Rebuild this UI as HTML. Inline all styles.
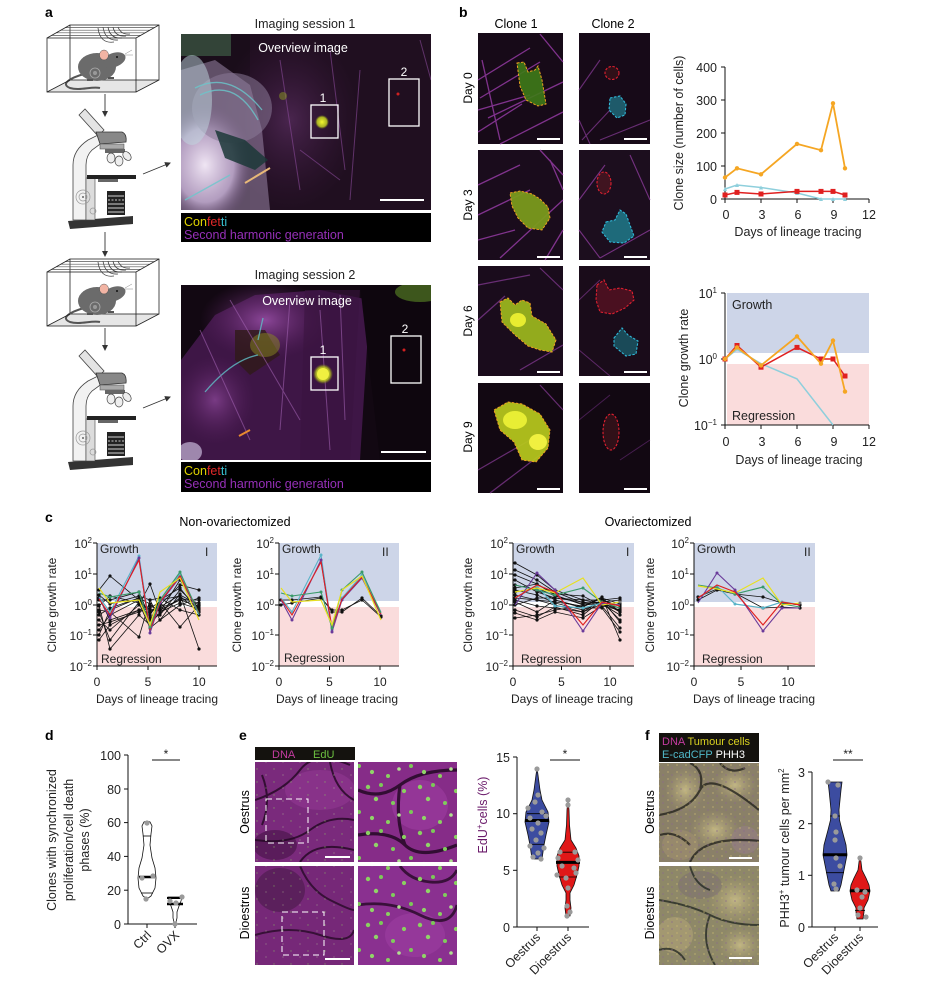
<!DOCTYPE html>
<html><head><meta charset="utf-8">
<style>
html,body{margin:0;padding:0;background:#fff;}
svg{display:block;}
text{font-family:"Liberation Sans",Arial,sans-serif;}
</style></head>
<body>
<svg width="943" height="989" viewBox="0 0 943 989" xmlns="http://www.w3.org/2000/svg" font-family="Liberation Sans, Arial, sans-serif">
<defs>
  <marker id="arr" markerWidth="6" markerHeight="6" refX="5" refY="3" orient="auto" markerUnits="userSpaceOnUse"><path d="M0,0 L6,3 L0,6 Z" fill="#333"/></marker>
  <marker id="mk" markerWidth="4" markerHeight="4" refX="2" refY="2" markerUnits="userSpaceOnUse"><circle cx="2" cy="2" r="1.6" fill="#111"/></marker>
  <marker id="mc" markerWidth="4" markerHeight="4" refX="2" refY="2" markerUnits="userSpaceOnUse"><circle cx="2" cy="2" r="1.5" fill="#5ab4c8"/></marker>
  <marker id="mp" markerWidth="4" markerHeight="4" refX="2" refY="2" markerUnits="userSpaceOnUse"><circle cx="2" cy="2" r="1.5" fill="#6a3a9a"/></marker>
  <marker id="mr" markerWidth="4" markerHeight="4" refX="2" refY="2" markerUnits="userSpaceOnUse"><circle cx="2" cy="2" r="1.5" fill="#e02020"/></marker>
  <marker id="mg" markerWidth="4" markerHeight="4" refX="2" refY="2" markerUnits="userSpaceOnUse"><circle cx="2" cy="2" r="1.5" fill="#3a9a6a"/></marker>
  <marker id="my" markerWidth="4" markerHeight="4" refX="2" refY="2" markerUnits="userSpaceOnUse"><circle cx="2" cy="2" r="1.5" fill="#777"/></marker>
  <marker id="mo" markerWidth="6" markerHeight="6" refX="3" refY="3" markerUnits="userSpaceOnUse"><circle cx="3" cy="3" r="2.2" fill="#f5a623"/></marker>
  <marker id="mcy" markerWidth="6" markerHeight="6" refX="3" refY="3" markerUnits="userSpaceOnUse"><path d="M3,1 L5,5 L1,5 Z" fill="#8ecfdc"/></marker>
  <marker id="mrs" markerWidth="6" markerHeight="6" refX="3" refY="3" markerUnits="userSpaceOnUse"><rect x="0.5" y="0.5" width="5" height="5" fill="#e02020"/></marker>

  <radialGradient id="brightA" cx="0.5" cy="0.5" r="0.5">
    <stop offset="0" stop-color="#f4eaf8" stop-opacity="0.97"/>
    <stop offset="0.6" stop-color="#cdb6dc" stop-opacity="0.75"/>
    <stop offset="1" stop-color="#6a4a7a" stop-opacity="0"/>
  </radialGradient>
  <radialGradient id="purpA" cx="0.5" cy="0.5" r="0.5">
    <stop offset="0" stop-color="#9a50a8" stop-opacity="0.85"/>
    <stop offset="1" stop-color="#5a2060" stop-opacity="0"/>
  </radialGradient>
  <radialGradient id="yel" cx="0.5" cy="0.5" r="0.5">
    <stop offset="0" stop-color="#f4f830"/>
    <stop offset="0.7" stop-color="#c8d820" stop-opacity="0.8"/>
    <stop offset="1" stop-color="#8a9a10" stop-opacity="0"/>
  </radialGradient>
  <radialGradient id="lightF" cx="0.5" cy="0.5" r="0.5">
    <stop offset="0" stop-color="#c8bc88" stop-opacity="0.9"/>
    <stop offset="1" stop-color="#a89c70" stop-opacity="0"/>
  </radialGradient>
  <pattern id="gsmall" width="17" height="13" patternUnits="userSpaceOnUse">
    <circle cx="2" cy="2" r="0.7" fill="#8ad060"/>
    <circle cx="11" cy="8" r="0.6" fill="#c0e0a0"/>
  </pattern>
  <pattern id="gbig" width="52" height="46" patternUnits="userSpaceOnUse">
    <circle cx="4" cy="5" r="2.2" fill="#8ad060"/>
    <circle cx="17" cy="3" r="2" fill="#7cc858"/>
    <circle cx="12" cy="17" r="2.2" fill="#90d468"/>
    <circle cx="29" cy="21" r="2" fill="#80cc5c"/>
    <circle cx="40" cy="9" r="2.1" fill="#8ad060"/>
    <circle cx="47" cy="30" r="2" fill="#7cc858"/>
    <circle cx="8" cy="36" r="2.1" fill="#90d468"/>
    <circle cx="24" cy="40" r="2" fill="#8ad060"/>
    <circle cx="35" cy="33" r="1.8" fill="#b0e090"/>
  </pattern>
  <pattern id="fnoise" width="9" height="7" patternUnits="userSpaceOnUse">
    <rect x="1" y="1" width="2" height="2" fill="#c8b870" opacity="0.35"/>
    <rect x="5" y="4" width="2" height="2" fill="#8a6a88" opacity="0.35"/>
  </pattern>

  <clipPath id="cA1"><rect x="181" y="34" width="250" height="176"/></clipPath>
  <clipPath id="cA2"><rect x="181" y="285" width="250" height="175"/></clipPath>
  <clipPath id="cE1"><rect x="255" y="762" width="99" height="100"/></clipPath>
  <clipPath id="cE2"><rect x="358" y="762" width="99" height="100"/></clipPath>
  <clipPath id="cE3"><rect x="255" y="866" width="99" height="99"/></clipPath>
  <clipPath id="cE4"><rect x="358" y="866" width="99" height="99"/></clipPath>
  <clipPath id="cF1"><rect x="659" y="763" width="100" height="99"/></clipPath>
  <clipPath id="cF2"><rect x="659" y="866" width="100" height="99"/></clipPath>

  <g id="cage">
    <polygon points="47,92 136,92 159,80 70,80" fill="#e6e6e6"/>
    <rect x="70" y="25" width="89" height="55" fill="none" stroke="#222" stroke-width="0.8"/>
    <g stroke="#555" stroke-width="0.7">
      <line x1="51.6" y1="35.4" x2="140.6" y2="35.4"/>
      <line x1="56.2" y1="32.8" x2="145.2" y2="32.8"/>
      <line x1="60.8" y1="30.2" x2="149.8" y2="30.2"/>
      <line x1="65.4" y1="27.6" x2="154.4" y2="27.6"/>
    </g>
    <g fill="none" stroke="#444" stroke-width="0.8">
      <path d="M98,28 Q100,44 114,42"/>
      <path d="M103,27 Q105,41 118,40"/>
      <path d="M108,27 Q110,39 122,38"/>
      <path d="M113,27 Q115,37 126,36"/>
      <path d="M118,27 Q121,35 130,34"/>
    </g>
    <path d="M84,74 C70,78 60,84 70,88 C80,91 92,86 100,88" fill="none" stroke="#555" stroke-width="2"/>
    <ellipse cx="97" cy="67" rx="19" ry="14" fill="#6b6b6b"/>
    <ellipse cx="114" cy="60" rx="12" ry="7" transform="rotate(-20 114 60)" fill="#6b6b6b"/>
    <ellipse cx="104" cy="55" rx="4.5" ry="5" fill="#f2b4a4" stroke="#555" stroke-width="0.5"/>
    <circle cx="117" cy="57" r="1" fill="#111"/>
    <g stroke="#888" stroke-width="0.5"><line x1="125" y1="54" x2="132" y2="50"/><line x1="125" y1="55" x2="133" y2="55"/></g>
    <circle cx="95" cy="73" r="5" fill="none" stroke="#aaa" stroke-width="0.8"/>
    <circle cx="95" cy="73" r="2" fill="#999"/>
    <rect x="108" y="77" width="6" height="2" fill="#555"/>
    <rect x="87" y="79" width="6" height="2" fill="#555"/>
    <rect x="47" y="38" width="89" height="54" fill="none" stroke="#222" stroke-width="0.8"/>
    <g stroke="#222" stroke-width="0.8">
      <line x1="47" y1="38" x2="70" y2="25"/><line x1="136" y1="38" x2="159" y2="25"/>
      <line x1="136" y1="92" x2="159" y2="80"/><line x1="47" y1="92" x2="70" y2="80"/>
    </g>
  </g>
  <g id="scope">
    <polygon points="68,221 133,216 133,224 70,229" fill="#333"/>
    <path d="M73,220 L73,165 Q73,150 88,140 L100,134 L103,142 L92,150 Q86,156 86,165 L86,220 Z" fill="#f2f2f2" stroke="#444" stroke-width="0.8"/>
    <rect x="86" y="178" width="9" height="42" fill="#dcdcdc" stroke="#444" stroke-width="0.6"/>
    <rect x="87" y="175" width="49" height="4" fill="#222"/>
    <polygon points="79,115 85,109 104,130 98,136" fill="#e4e4e4" stroke="#444" stroke-width="0.8"/>
    <path d="M96,132 L122,132 Q127,134 126,142 L100,144 Z" fill="#888" stroke="#333" stroke-width="0.8"/>
    <rect x="100" y="144" width="24" height="5" fill="#aaa" stroke="#444" stroke-width="0.5"/>
    <rect x="105" y="149" width="20" height="4" fill="#666"/>
    <ellipse cx="111" cy="158" rx="4" ry="5" fill="#eee" stroke="#444" stroke-width="0.7"/>
    <ellipse cx="119" cy="161" rx="4" ry="5" fill="#eee" stroke="#444" stroke-width="0.7"/>
    <ellipse cx="127" cy="156" rx="3.5" ry="5" transform="rotate(-40 127 156)" fill="#eee" stroke="#444" stroke-width="0.7"/>
    <rect x="98" y="179" width="20" height="3" fill="#666"/>
    <rect x="107" y="191" width="18" height="24" fill="#222"/>
    <g stroke="#fff" stroke-width="0.8"><line x1="108" y1="196" x2="124" y2="196"/><line x1="108" y1="200" x2="124" y2="200" stroke-dasharray="2,1.5"/><line x1="108" y1="204" x2="124" y2="204"/><line x1="108" y1="208" x2="124" y2="208"/><line x1="108" y1="212" x2="124" y2="212"/></g>
    <circle cx="83" cy="197" r="7" fill="none" stroke="#999" stroke-width="0.7"/>
    <circle cx="83" cy="197" r="4" fill="none" stroke="#999" stroke-width="0.7"/>
    <circle cx="83" cy="197" r="1" fill="#666"/>
    <circle cx="93" cy="211" r="3" fill="none" stroke="#999" stroke-width="0.7"/>
  </g>
</defs>

<!-- ===== Panel a ===== -->
<text x="45" y="17" font-size="14" font-weight="bold">a</text>
<use href="#cage"/>
<use href="#scope"/>
<use href="#cage" transform="translate(0,234)"/>
<use href="#scope" transform="translate(0,241)"/>
<g stroke="#333" stroke-width="0.9" fill="none">
  <line x1="105" y1="94" x2="105" y2="116" marker-end="url(#arr)"/>
  <line x1="105" y1="232" x2="105" y2="256" marker-end="url(#arr)"/>
  <line x1="105" y1="328" x2="105" y2="350" marker-end="url(#arr)"/>
  <line x1="143" y1="174" x2="170" y2="163" marker-end="url(#arr)"/>
  <line x1="143" y1="408" x2="170" y2="397" marker-end="url(#arr)"/>
</g>

<text x="305" y="28" font-size="12.5" text-anchor="middle" fill="#222">Imaging session 1</text>
<g clip-path="url(#cA1)">
  <rect x="181" y="34" width="250" height="176" fill="#1a0d1a"/>
  <rect x="250" y="34" width="181" height="176" fill="#221022" opacity="0.8"/>
  <ellipse cx="290" cy="120" rx="70" ry="90" fill="url(#purpA)" opacity="0.4"/>
  <rect x="181" y="34" width="50" height="22" fill="#334438"/>
  <polygon points="181,70 215,60 250,85 262,130 270,210 181,210" fill="#9a86a8" opacity="0.55"/>
  <ellipse cx="205" cy="165" rx="48" ry="62" fill="url(#brightA)"/>
  <ellipse cx="232" cy="108" rx="40" ry="35" fill="#8a7a98" opacity="0.55"/>
  <ellipse cx="192" cy="100" rx="20" ry="45" fill="#c0d8e0" opacity="0.5"/>
  <polygon points="215,130 245,140 268,160 255,170 225,158" fill="#1c3838" opacity="0.85"/>
  <g fill="none" stroke="#6ac8cc" stroke-width="1.3" opacity="0.8">
    <path d="M195,88 Q230,70 262,110"/>
    <path d="M200,95 Q235,78 258,120"/>
    <path d="M185,200 L230,175"/>
  </g>
  <line x1="245" y1="183" x2="270" y2="168" stroke="#e8b878" stroke-width="2"/>
  <g stroke="#8a4a9a" stroke-width="1" opacity="0.6">
    <line x1="280" y1="60" x2="300" y2="190"/><line x1="330" y1="50" x2="345" y2="170"/><line x1="360" y1="70" x2="350" y2="200"/>
    <line x1="300" y1="150" x2="340" y2="180"/><line x1="420" y1="40" x2="431" y2="80"/>
  </g>
  <circle cx="322" cy="122" r="7" fill="url(#yel)"/>
  <circle cx="283" cy="96" r="4" fill="#8a9a20" opacity="0.5"/>
</g>
<rect x="311" y="105" width="27" height="33" fill="none" stroke="#fff" stroke-width="1.3"/>
<rect x="389" y="79" width="30" height="47" fill="none" stroke="#fff" stroke-width="1.3"/>
<circle cx="398" cy="94" r="1.5" fill="#d02020"/>
<text x="323" y="102" font-size="12" fill="#fff" text-anchor="middle">1</text>
<text x="404" y="76" font-size="12" fill="#fff" text-anchor="middle">2</text>
<text x="303" y="52" font-size="12.5" fill="#fff" text-anchor="middle">Overview image</text>
<rect x="380" y="199" width="44" height="2" fill="#fff"/>
<rect x="181" y="213" width="250" height="29" fill="#000"/>
<text x="184" y="226" font-size="12.5"><tspan fill="#e0d400">Con</tspan><tspan fill="#e02828">fet</tspan><tspan fill="#38c0d0">ti</tspan></text>
<text x="184" y="239" font-size="12.5" fill="#9630b8">Second harmonic generation</text>

<text x="305" y="279" font-size="12.5" text-anchor="middle" fill="#222">Imaging session 2</text>
<g clip-path="url(#cA2)">
  <rect x="181" y="285" width="250" height="175" fill="#120812"/>
  <polygon points="181,360 215,315 255,295 320,290 370,300 360,460 181,460" fill="#44184c" opacity="0.9"/>
  <ellipse cx="265" cy="320" rx="65" ry="40" fill="url(#purpA)"/>
  <ellipse cx="215" cy="400" rx="40" ry="45" fill="url(#purpA)" opacity="0.75"/>
  <polygon points="305,290 360,290 350,460 300,460" fill="#3a1440" opacity="0.6"/>
  <polygon points="360,285 431,285 431,460 380,460" fill="#0e060e"/>
  <ellipse cx="420" cy="292" rx="25" ry="10" fill="#4a6a20" opacity="0.8"/>
  <polygon points="235,330 265,330 280,355 250,375 235,360" fill="#301a18" opacity="0.8"/>
  <ellipse cx="265" cy="345" rx="15" ry="12" fill="#8a8a20" opacity="0.5"/>
  <g fill="none" stroke="#60c0c8" stroke-width="1.3" opacity="0.8"><path d="M205,392 Q232,360 258,355"/><line x1="263" y1="318" x2="258" y2="340"/></g>
  <g stroke="#a060b0" stroke-width="1" opacity="0.6">
    <line x1="200" y1="330" x2="250" y2="440"/><line x1="230" y1="300" x2="300" y2="420"/><line x1="290" y1="300" x2="280" y2="430"/>
    <line x1="320" y1="310" x2="330" y2="450"/><line x1="340" y1="295" x2="345" y2="420"/>
  </g>
  <ellipse cx="190" cy="452" rx="12" ry="10" fill="#c8b8d8" opacity="0.7"/>
  <line x1="239" y1="436" x2="250" y2="430" stroke="#e88a30" stroke-width="2"/>
  <ellipse cx="323" cy="374" rx="10" ry="10" fill="url(#yel)"/>
  <ellipse cx="323" cy="374" rx="6" ry="6" fill="#f0f040"/>
</g>
<rect x="311" y="357" width="27" height="33" fill="none" stroke="#fff" stroke-width="1.3"/>
<rect x="391" y="336" width="30" height="47" fill="none" stroke="#fff" stroke-width="1.3"/>
<circle cx="404" cy="350" r="1.5" fill="#d02020"/>
<text x="323" y="354" font-size="12" fill="#fff" text-anchor="middle">1</text>
<text x="405" y="333" font-size="12" fill="#fff" text-anchor="middle">2</text>
<text x="307" y="305" font-size="12.5" fill="#fff" text-anchor="middle">Overview image</text>
<rect x="381" y="451" width="45" height="2" fill="#fff"/>
<rect x="181" y="462" width="250" height="30" fill="#000"/>
<text x="184" y="475" font-size="12.5"><tspan fill="#e0d400">Con</tspan><tspan fill="#e02828">fet</tspan><tspan fill="#38c0d0">ti</tspan></text>
<text x="184" y="488" font-size="12.5" fill="#9630b8">Second harmonic generation</text>

<!-- ===== Panel b ===== -->
<text x="459" y="17" font-size="14" font-weight="bold">b</text>
<text x="516" y="28" font-size="12.5" text-anchor="middle">Clone 1</text>
<text x="613" y="28" font-size="12.5" text-anchor="middle">Clone 2</text>
<text transform="translate(472,88) rotate(-90)" font-size="12" text-anchor="middle">Day 0</text>
<text transform="translate(472,205) rotate(-90)" font-size="12" text-anchor="middle">Day 3</text>
<text transform="translate(472,321) rotate(-90)" font-size="12" text-anchor="middle">Day 6</text>
<text transform="translate(472,437) rotate(-90)" font-size="12" text-anchor="middle">Day 9</text>

<g>
  <rect x="478" y="33" width="85" height="111" fill="#170a18"/>
  <g stroke="#a440b4" stroke-width="1.3" opacity="0.75">
    <line x1="478" y1="80" x2="530" y2="48"/><line x1="480" y1="98" x2="540" y2="62"/><line x1="488" y1="118" x2="563" y2="82"/>
    <line x1="478" y1="132" x2="522" y2="104"/><line x1="500" y1="144" x2="563" y2="112"/><line x1="540" y1="34" x2="563" y2="62"/>
    <line x1="482" y1="60" x2="500" y2="140"/><line x1="478" y1="110" x2="530" y2="95"/>
  </g>
  <polygon points="517,63 524,62 528,72 535,70 538,66 542,80 546,104 538,106 526,100 520,86" fill="#3e7a18" opacity="0.9"/>
  <polygon points="517,63 524,62 528,72 535,70 538,66 542,80 546,104 538,106 526,100 520,86" fill="none" stroke="#f0a020" stroke-width="1" stroke-dasharray="2.5,1.5"/>
  <rect x="537" y="138" width="23" height="2" fill="#fff"/>

  <rect x="478" y="150" width="85" height="110" fill="#1a0c1c"/>
  <g stroke="#a440b4" stroke-width="1.3" opacity="0.75">
    <line x1="478" y1="185" x2="520" y2="165"/><line x1="478" y1="215" x2="530" y2="190"/><line x1="500" y1="258" x2="563" y2="200"/>
    <line x1="540" y1="150" x2="563" y2="175"/><line x1="478" y1="240" x2="515" y2="230"/><line x1="545" y1="260" x2="563" y2="230"/>
    <line x1="550" y1="160" x2="563" y2="190"/>
  </g>
  <polygon points="510,193 520,191 532,194 540,199 548,207 550,218 542,230 528,228 518,218 512,206" fill="#7a9a1c" opacity="0.95"/>
  <polygon points="510,193 520,191 532,194 540,199 548,207 550,218 542,230 528,228 518,218 512,206" fill="none" stroke="#f0a020" stroke-width="1" stroke-dasharray="2.5,1.5"/>
  <rect x="537" y="256" width="23" height="2" fill="#fff"/>

  <rect x="478" y="266" width="85" height="110" fill="#1a0c1c"/>
  <g stroke="#8a3c9a" stroke-width="1.2" opacity="0.7">
    <line x1="478" y1="285" x2="530" y2="275"/><line x1="478" y1="320" x2="505" y2="296"/><line x1="520" y1="370" x2="563" y2="345"/>
    <line x1="540" y1="268" x2="563" y2="290"/>
  </g>
  <polygon points="500,302 508,298 515,305 522,300 530,303 532,316 546,324 556,340 552,352 540,350 528,346 515,335 502,322" fill="#9ab41e" opacity="0.95"/>
  <ellipse cx="518" cy="320" rx="8" ry="7" fill="#e8ec30"/>
  <polygon points="500,302 508,298 515,305 522,300 530,303 532,316 546,324 556,340 552,352 540,350 528,346 515,335 502,322" fill="none" stroke="#f0a020" stroke-width="1" stroke-dasharray="2.5,1.5"/>
  <rect x="537" y="371" width="23" height="2" fill="#fff"/>

  <rect x="478" y="383" width="85" height="110" fill="#120812"/>
  <g stroke="#8a3c9a" stroke-width="1.2" opacity="0.7">
    <line x1="478" y1="470" x2="530" y2="440"/><line x1="490" y1="493" x2="540" y2="455"/><line x1="540" y1="385" x2="563" y2="410"/>
  </g>
  <polygon points="494,410 508,402 522,404 540,414 550,430 548,448 536,462 522,460 514,442 500,430" fill="#b4c41e" opacity="0.95"/>
  <ellipse cx="515" cy="420" rx="12" ry="9" fill="#e8ee34"/>
  <ellipse cx="538" cy="442" rx="9" ry="8" fill="#f0f040"/>
  <polygon points="494,410 508,402 522,404 540,414 550,430 548,448 536,462 522,460 514,442 500,430" fill="none" stroke="#f0a020" stroke-width="1" stroke-dasharray="2.5,1.5"/>
  <rect x="537" y="488" width="23" height="2" fill="#fff"/>

  <rect x="579" y="33" width="71" height="111" fill="#170a18"/>
  <g stroke="#8a3c9a" stroke-width="1.1" opacity="0.7">
    <line x1="579" y1="90" x2="600" y2="60"/><line x1="582" y1="140" x2="610" y2="110"/><line x1="600" y1="140" x2="650" y2="120"/><line x1="579" y1="120" x2="590" y2="144"/>
  </g>
  <ellipse cx="612" cy="73" rx="7" ry="6.5" fill="#301018" stroke="#e02030" stroke-width="1.1" stroke-dasharray="2.5,1.5"/>
  <polygon points="610,98 620,96 626,104 625,115 617,118 609,110" fill="#1e5a6a" stroke="#30b8d8" stroke-width="1.1" stroke-dasharray="2.5,1.5"/>
  <rect x="624" y="138" width="23" height="2" fill="#fff"/>

  <rect x="579" y="150" width="71" height="110" fill="#1c0e1e"/>
  <g stroke="#9a40aa" stroke-width="1.1" opacity="0.7">
    <line x1="579" y1="200" x2="605" y2="165"/><line x1="630" y1="155" x2="650" y2="200"/><line x1="600" y1="258" x2="650" y2="230"/><line x1="579" y1="230" x2="600" y2="258"/>
  </g>
  <ellipse cx="604" cy="183" rx="7" ry="11" fill="#401420" stroke="#e02030" stroke-width="1.1" stroke-dasharray="2.5,1.5"/>
  <polygon points="606,222 615,220 620,210 626,214 630,225 634,236 624,243 610,242 602,232" fill="#1e6a7a" stroke="#30b8d8" stroke-width="1.1" stroke-dasharray="2.5,1.5"/>
  <rect x="624" y="256" width="23" height="2" fill="#fff"/>

  <rect x="579" y="266" width="71" height="110" fill="#1a0c1a"/>
  <g stroke="#8a3c9a" stroke-width="1" opacity="0.6"><line x1="579" y1="300" x2="600" y2="280"/><line x1="579" y1="350" x2="610" y2="376"/></g>
  <polygon points="597,285 604,280 609,290 620,288 632,291 634,300 625,308 612,314 600,312 596,300" fill="#4a1020" stroke="#e02030" stroke-width="1.1" stroke-dasharray="2.5,1.5"/>
  <polygon points="614,338 622,328 628,335 638,341 636,354 626,356 614,346" fill="#1a4a58" stroke="#30b8d8" stroke-width="1.1" stroke-dasharray="2.5,1.5"/>
  <rect x="624" y="371" width="23" height="2" fill="#fff"/>

  <rect x="579" y="383" width="71" height="110" fill="#120812"/>
  <g stroke="#6a2c7a" stroke-width="1" opacity="0.6"><line x1="579" y1="420" x2="610" y2="395"/><line x1="620" y1="460" x2="650" y2="440"/></g>
  <ellipse cx="611" cy="432" rx="8" ry="18" fill="#301018" stroke="#e02030" stroke-width="1.1" stroke-dasharray="2.5,1.5"/>
  <rect x="624" y="488" width="23" height="2" fill="#fff"/>
</g>

<!-- b chart 1 -->
<g font-size="12.5" fill="#222">
  <g stroke="#111" stroke-width="1">
    <line x1="725" y1="67" x2="725" y2="199"/><line x1="725" y1="199" x2="869" y2="199"/>
    <line x1="721" y1="67" x2="725" y2="67"/><line x1="721" y1="100" x2="725" y2="100"/><line x1="721" y1="133" x2="725" y2="133"/><line x1="721" y1="166" x2="725" y2="166"/><line x1="721" y1="199" x2="725" y2="199"/>
    <line x1="725" y1="199" x2="725" y2="203"/><line x1="761" y1="199" x2="761" y2="203"/><line x1="797" y1="199" x2="797" y2="203"/><line x1="833" y1="199" x2="833" y2="203"/><line x1="869" y1="199" x2="869" y2="203"/>
  </g>
  <text x="717" y="72" text-anchor="end">400</text>
  <text x="717" y="105" text-anchor="end">300</text>
  <text x="717" y="138" text-anchor="end">200</text>
  <text x="717" y="171" text-anchor="end">100</text>
  <text x="717" y="204" text-anchor="end">0</text>
  <text x="726" y="219" text-anchor="middle">0</text><text x="762" y="219" text-anchor="middle">3</text><text x="798" y="219" text-anchor="middle">6</text><text x="834" y="219" text-anchor="middle">9</text><text x="869" y="219" text-anchor="middle">12</text>
  <text x="798" y="236" text-anchor="middle">Days of lineage tracing</text>
  <text transform="translate(683,133) rotate(-90)" text-anchor="middle">Clone size (number of cells)</text>
  <polyline points="725,189 737,185 761,187.5 797,193 821,199 833,199 845,199" fill="none" stroke="#8ecfdc" stroke-width="1.5" marker-start="url(#mcy)" marker-mid="url(#mcy)" marker-end="url(#mcy)"/>
  <polyline points="725,195 737,192.4 761,194 797,191.4 821,191.4 833,191.4 845,195" fill="none" stroke="#e02020" stroke-width="1.5" marker-start="url(#mrs)" marker-mid="url(#mrs)" marker-end="url(#mrs)"/>
  <polyline points="725,177.5 737,168.3 761,174.3 797,143.9 821,150.2 833,103.3 845,168.3" fill="none" stroke="#f5a623" stroke-width="1.8" marker-start="url(#mo)" marker-mid="url(#mo)" marker-end="url(#mo)"/>
</g>

<!-- b chart 2 -->
<g font-size="12.5" fill="#222">
  <rect x="727" y="293" width="142" height="60" fill="#cdd5e8"/>
  <rect x="727" y="364" width="142" height="61" fill="#fadcdc"/>
  <text x="732" y="309">Growth</text>
  <text x="732" y="420">Regression</text>
  <g stroke="#111" stroke-width="1">
    <line x1="725" y1="293" x2="725" y2="425"/><line x1="725" y1="425" x2="869" y2="425"/>
    <line x1="721" y1="293" x2="725" y2="293"/><line x1="721" y1="359" x2="725" y2="359"/><line x1="721" y1="425" x2="725" y2="425"/>
    <line x1="725" y1="425" x2="725" y2="429"/><line x1="761" y1="425" x2="761" y2="429"/><line x1="797" y1="425" x2="797" y2="429"/><line x1="833" y1="425" x2="833" y2="429"/><line x1="869" y1="425" x2="869" y2="429"/>
  </g>
  <text x="717" y="298" text-anchor="end">10<tspan font-size="8" dy="-5">1</tspan></text>
  <text x="717" y="364" text-anchor="end">10<tspan font-size="8" dy="-5">0</tspan></text>
  <text x="717" y="430" text-anchor="end">10<tspan font-size="8" dy="-5">−1</tspan></text>
  <text x="726" y="446" text-anchor="middle">0</text><text x="762" y="446" text-anchor="middle">3</text><text x="798" y="446" text-anchor="middle">6</text><text x="834" y="446" text-anchor="middle">9</text><text x="869" y="446" text-anchor="middle">12</text>
  <text x="799" y="464" text-anchor="middle">Days of lineage tracing</text>
  <text transform="translate(688,358) rotate(-90)" text-anchor="middle">Clone growth rate</text>
  <polyline points="725,359 737,349.4 761,363.7 797,378.9 833,425" fill="none" stroke="#8ecfdc" stroke-width="1.5"/>
  <polyline points="725,359 737,345.5 761,367.2 797,347.4 821,359 833,359 845,376" fill="none" stroke="#e02020" stroke-width="1.5" marker-start="url(#mrs)" marker-mid="url(#mrs)" marker-end="url(#mrs)"/>
  <polyline points="725,359 737,347.4 761,365.4 797,336.4 821,363.7 833,340.6 845,391.6" fill="none" stroke="#f5a623" stroke-width="1.8" marker-start="url(#mo)" marker-mid="url(#mo)" marker-end="url(#mo)"/>
</g>

<!-- ===== Panel c ===== -->
<text x="45" y="522" font-size="14" font-weight="bold">c</text>
<text x="235" y="526" font-size="12.5" text-anchor="middle">Non-ovariectomized</text>
<text x="648" y="526" font-size="12.5" text-anchor="middle">Ovariectomized</text>

<g font-size="12" fill="#222">
  <rect x="97" y="543" width="120" height="58" fill="#cdd5e8"/>
  <rect x="97" y="607" width="120" height="59" fill="#fadcdc"/>
  <text x="100" y="553">Growth</text>
  <text x="101" y="663">Regression</text>
  <text x="205" y="556">I</text>
  <g fill="none" stroke="#111" stroke-width="0.8" marker-start="url(#mk)" marker-mid="url(#mk)" marker-end="url(#mk)">
    <polyline points="99,590 110,576 139,600 150,612 160,605 180,585 199,590"/>
    <polyline points="99,598 110,620 139,610 150,606 160,610 180,600 199,606"/>
    <polyline points="99,605 110,649 139,615 150,625 160,612 180,598 199,603"/>
    <polyline points="99,610 110,612 139,637 150,600 160,620 180,594 199,649"/>
    <polyline points="99,615 110,608 139,598 150,615 160,600 180,596 199,612"/>
    <polyline points="99,620 110,630 139,605 150,584 160,612 180,580 199,610"/>
    <polyline points="99,625 110,622 139,612 150,608 160,602 180,627 199,605"/>
    <polyline points="99,600 110,600 139,592 150,618 160,615 180,590 199,608"/>
    <polyline points="99,612 110,640 139,602 150,610 160,608 180,600 199,600"/>
    <polyline points="99,630 110,615 139,600 150,620 160,600 180,588 199,612"/>
    <polyline points="99,595 110,604 139,596 150,600 160,598 180,610 199,615"/>
    <polyline points="99,640 110,625 139,610 150,612 160,607 180,595 199,605"/>
    <polyline points="99,606 110,596 139,603 150,628 160,620 180,605 199,598"/>
    <polyline points="99,635 110,610 139,598 150,604 160,612 180,603 199,609"/>
  </g>
  <polyline points="99,597 110,612 139,556 150,628 160,602 180,574 199,615" fill="none" stroke="#5ab4c8" stroke-width="1.1" marker-mid="url(#mc)"/>
  <polyline points="99,598 110,618 139,558 150,633 160,603 180,577 199,614" fill="none" stroke="#6a3a9a" stroke-width="1.1" marker-mid="url(#mp)"/>
  <polyline points="99,599 110,615 139,560 150,630 160,602 180,576 199,613" fill="none" stroke="#e02020" stroke-width="1.1"/>
  <polyline points="99,593 110,597 139,592 150,627 160,600 180,572 199,614" fill="none" stroke="#3a9a6a" stroke-width="1.1" marker-mid="url(#mg)"/>
  <polyline points="99,588 110,603 139,600 150,625 160,592 180,578 199,620" fill="none" stroke="#e8e020" stroke-width="1.2"/>
  <g stroke="#111" stroke-width="1">
    <line x1="97" y1="543" x2="97" y2="666"/><line x1="97" y1="666" x2="217" y2="666"/>
    <line x1="93" y1="543" x2="97" y2="543"/><line x1="93" y1="574" x2="97" y2="574"/><line x1="93" y1="605" x2="97" y2="605"/><line x1="93" y1="635" x2="97" y2="635"/><line x1="93" y1="666" x2="97" y2="666"/>
    <line x1="97" y1="666" x2="97" y2="670"/><line x1="148" y1="666" x2="148" y2="670"/><line x1="199" y1="666" x2="199" y2="670"/>
  </g>
  <text x="92" y="548" text-anchor="end">10<tspan font-size="8" dy="-5">2</tspan></text>
  <text x="92" y="579" text-anchor="end">10<tspan font-size="8" dy="-5">1</tspan></text>
  <text x="92" y="610" text-anchor="end">10<tspan font-size="8" dy="-5">0</tspan></text>
  <text x="92" y="640" text-anchor="end">10<tspan font-size="8" dy="-5">−1</tspan></text>
  <text x="92" y="671" text-anchor="end">10<tspan font-size="8" dy="-5">−2</tspan></text>
  <text x="97" y="686" text-anchor="middle">0</text><text x="148" y="686" text-anchor="middle">5</text><text x="199" y="686" text-anchor="middle">10</text>
  <text x="157" y="703" text-anchor="middle">Days of lineage tracing</text>
  <text transform="translate(56,605) rotate(-90)" text-anchor="middle">Clone growth rate</text>
</g>

<g font-size="12" fill="#222">
  <rect x="279" y="543" width="120" height="58" fill="#cdd5e8"/>
  <rect x="279" y="607" width="120" height="59" fill="#fadcdc"/>
  <text x="282" y="553">Growth</text>
  <text x="284" y="662">Regression</text>
  <text x="382" y="556">II</text>
  <g fill="none" stroke="#111" stroke-width="0.8" marker-start="url(#mk)" marker-mid="url(#mk)" marker-end="url(#mk)">
    <polyline points="281,600 292,600 321,597 332,612 342,612 362,598 381,616"/>
    <polyline points="281,605 292,603 321,598 332,610 342,610 362,600 381,617"/>
  </g>
  <polyline points="281,598 292,612 321,555 332,630 342,598 362,575 381,612" fill="none" stroke="#5ab4c8" stroke-width="1.1" marker-mid="url(#mc)"/>
  <polyline points="281,600 292,620 321,560 332,632 342,600 362,578 381,615" fill="none" stroke="#6a3a9a" stroke-width="1.1" marker-mid="url(#mp)"/>
  <polyline points="281,599 292,615 321,562 332,628 342,599 362,577 381,614" fill="none" stroke="#e02020" stroke-width="1.1"/>
  <polyline points="281,593 292,596 321,592 332,628 342,590 362,572 381,613" fill="none" stroke="#3a9a6a" stroke-width="1.1" marker-mid="url(#mg)"/>
  <polyline points="281,588 292,602 321,600 332,625 342,590 362,576 381,620" fill="none" stroke="#e8e020" stroke-width="1.2"/>
  <g stroke="#111" stroke-width="1">
    <line x1="279" y1="543" x2="279" y2="666"/><line x1="279" y1="666" x2="399" y2="666"/>
    <line x1="275" y1="543" x2="279" y2="543"/><line x1="275" y1="574" x2="279" y2="574"/><line x1="275" y1="605" x2="279" y2="605"/><line x1="275" y1="635" x2="279" y2="635"/><line x1="275" y1="666" x2="279" y2="666"/>
    <line x1="279" y1="666" x2="279" y2="670"/><line x1="329.5" y1="666" x2="329.5" y2="670"/><line x1="380" y1="666" x2="380" y2="670"/>
  </g>
  <text x="274" y="548" text-anchor="end">10<tspan font-size="8" dy="-5">2</tspan></text>
  <text x="274" y="579" text-anchor="end">10<tspan font-size="8" dy="-5">1</tspan></text>
  <text x="274" y="610" text-anchor="end">10<tspan font-size="8" dy="-5">0</tspan></text>
  <text x="274" y="640" text-anchor="end">10<tspan font-size="8" dy="-5">−1</tspan></text>
  <text x="274" y="671" text-anchor="end">10<tspan font-size="8" dy="-5">−2</tspan></text>
  <text x="279" y="686" text-anchor="middle">0</text><text x="329.5" y="686" text-anchor="middle">5</text><text x="380" y="686" text-anchor="middle">10</text>
  <text x="337" y="703" text-anchor="middle">Days of lineage tracing</text>
  <text transform="translate(241,605) rotate(-90)" text-anchor="middle">Clone growth rate</text>
</g>

<g font-size="12" fill="#222">
  <rect x="513" y="543" width="121" height="59" fill="#cdd5e8"/>
  <rect x="513" y="607" width="121" height="59" fill="#fadcdc"/>
  <text x="516" y="553">Growth</text>
  <text x="521" y="663">Regression</text>
  <text x="626" y="556">I</text>
  <g fill="none" stroke="#111" stroke-width="0.8" marker-start="url(#mk)" marker-mid="url(#mk)" marker-end="url(#mk)">
    <polyline points="515,563 537,575 555,590 583,600 602,600 620,598"/>
    <polyline points="515,570 537,580 555,592 583,603 602,602 620,600"/>
    <polyline points="515,575 537,584 555,595 583,605 602,604 620,610"/>
    <polyline points="515,585 537,590 555,600 583,607 602,598 620,612"/>
    <polyline points="515,590 537,595 555,603 583,610 602,602 620,620"/>
    <polyline points="515,598 537,600 555,605 583,612 602,604 620,615"/>
    <polyline points="515,610 537,617 555,607 583,615 602,600 620,622"/>
    <polyline points="515,613 537,620 555,612 583,618 602,606 620,628"/>
    <polyline points="515,605 537,598 555,598 583,600 602,604 620,608"/>
    <polyline points="515,595 537,600 555,602 583,606 602,597 620,640"/>
    <polyline points="515,580 537,592 555,598 583,602 602,605 620,602"/>
    <polyline points="515,600 537,606 555,608 583,612 602,600 620,606"/>
    <polyline points="515,592 537,588 555,596 583,604 602,602 620,612"/>
    <polyline points="515,618 537,615 555,610 583,606 602,598 620,604"/>
    <polyline points="515,602 537,612 555,600 583,608 602,608 620,632"/>
    <polyline points="515,588 537,584 555,594 583,596 602,606 620,610"/>
  </g>
  <polyline points="515,598 537,586 555,606 583,608 602,603 620,605" fill="none" stroke="#5ab4c8" stroke-width="1.2" marker-mid="url(#mc)"/>
  <polyline points="515,585 537,590 555,595 583,588 602,602 620,608" fill="none" stroke="#3a9a6a" stroke-width="1.1" marker-mid="url(#mg)"/>
  <polyline points="515,592 537,588 555,593 583,578 602,605 620,602" fill="none" stroke="#e8e020" stroke-width="1.2" marker-end="url(#my)"/>
  <polyline points="515,605 537,573 555,590 583,631 602,603 620,605" fill="none" stroke="#6a3a9a" stroke-width="1.1" marker-mid="url(#mp)"/>
  <polyline points="515,598 537,585 555,592 583,625 602,602 620,606" fill="none" stroke="#e02020" stroke-width="1.2"/>
  <g stroke="#111" stroke-width="1">
    <line x1="513" y1="543" x2="513" y2="666"/><line x1="513" y1="666" x2="634" y2="666"/>
    <line x1="509" y1="543" x2="513" y2="543"/><line x1="509" y1="574" x2="513" y2="574"/><line x1="509" y1="605" x2="513" y2="605"/><line x1="509" y1="635" x2="513" y2="635"/><line x1="509" y1="666" x2="513" y2="666"/>
    <line x1="513" y1="666" x2="513" y2="670"/><line x1="561.5" y1="666" x2="561.5" y2="670"/><line x1="610" y1="666" x2="610" y2="670"/>
  </g>
  <text x="508" y="548" text-anchor="end">10<tspan font-size="8" dy="-5">2</tspan></text>
  <text x="508" y="579" text-anchor="end">10<tspan font-size="8" dy="-5">1</tspan></text>
  <text x="508" y="610" text-anchor="end">10<tspan font-size="8" dy="-5">0</tspan></text>
  <text x="508" y="640" text-anchor="end">10<tspan font-size="8" dy="-5">−1</tspan></text>
  <text x="508" y="671" text-anchor="end">10<tspan font-size="8" dy="-5">−2</tspan></text>
  <text x="513" y="686" text-anchor="middle">0</text><text x="561.5" y="686" text-anchor="middle">5</text><text x="610" y="686" text-anchor="middle">10</text>
  <text x="572" y="703" text-anchor="middle">Days of lineage tracing</text>
  <text transform="translate(472,605) rotate(-90)" text-anchor="middle">Clone growth rate</text>
</g>

<g font-size="12" fill="#222">
  <rect x="694" y="543" width="121" height="59" fill="#cdd5e8"/>
  <rect x="694" y="607" width="121" height="59" fill="#fadcdc"/>
  <text x="697" y="553">Growth</text>
  <text x="702" y="663">Regression</text>
  <text x="804" y="556">II</text>
  <g fill="none" stroke="#111" stroke-width="0.8" marker-start="url(#mk)" marker-mid="url(#mk)" marker-end="url(#mk)">
    <polyline points="698,600 717,590 735,594 763,597 782,603 800,605"/>
    <polyline points="698,597 717,589 735,593 763,608 782,607 800,608"/>
  </g>
  <polyline points="698,598 717,586 735,604 763,608 782,602 800,604" fill="none" stroke="#5ab4c8" stroke-width="1.2" marker-mid="url(#mc)"/>
  <polyline points="698,585 717,588 735,594 763,587 782,604 800,607" fill="none" stroke="#3a9a6a" stroke-width="1.1" marker-mid="url(#mg)"/>
  <polyline points="698,586 717,589 735,593 763,578 782,605 800,603" fill="none" stroke="#e8e020" stroke-width="1.2" marker-end="url(#my)"/>
  <polyline points="698,603 717,573 735,590 763,631 782,608 800,608" fill="none" stroke="#6a3a9a" stroke-width="1.1" marker-mid="url(#mp)"/>
  <polyline points="698,598 717,585 735,592 763,625 782,602 800,605" fill="none" stroke="#e02020" stroke-width="1.2"/>
  <g stroke="#111" stroke-width="1">
    <line x1="694" y1="543" x2="694" y2="666"/><line x1="694" y1="666" x2="815" y2="666"/>
    <line x1="690" y1="543" x2="694" y2="543"/><line x1="690" y1="574" x2="694" y2="574"/><line x1="690" y1="605" x2="694" y2="605"/><line x1="690" y1="635" x2="694" y2="635"/><line x1="690" y1="666" x2="694" y2="666"/>
    <line x1="694" y1="666" x2="694" y2="670"/><line x1="741" y1="666" x2="741" y2="670"/><line x1="788" y1="666" x2="788" y2="670"/>
  </g>
  <text x="689" y="548" text-anchor="end">10<tspan font-size="8" dy="-5">2</tspan></text>
  <text x="689" y="579" text-anchor="end">10<tspan font-size="8" dy="-5">1</tspan></text>
  <text x="689" y="610" text-anchor="end">10<tspan font-size="8" dy="-5">0</tspan></text>
  <text x="689" y="640" text-anchor="end">10<tspan font-size="8" dy="-5">−1</tspan></text>
  <text x="689" y="671" text-anchor="end">10<tspan font-size="8" dy="-5">−2</tspan></text>
  <text x="694" y="686" text-anchor="middle">0</text><text x="741" y="686" text-anchor="middle">5</text><text x="788" y="686" text-anchor="middle">10</text>
  <text x="754" y="703" text-anchor="middle">Days of lineage tracing</text>
  <text transform="translate(654,605) rotate(-90)" text-anchor="middle">Clone growth rate</text>
</g>

<!-- ===== Panel d ===== -->
<text x="45" y="740" font-size="14" font-weight="bold">d</text>
<g font-size="12.5" fill="#222">
  <g stroke="#111" stroke-width="1">
    <line x1="128" y1="755" x2="128" y2="924"/><line x1="128" y1="924" x2="197" y2="924"/>
    <line x1="124" y1="755" x2="128" y2="755"/><line x1="124" y1="789" x2="128" y2="789"/><line x1="124" y1="822.6" x2="128" y2="822.6"/><line x1="124" y1="856.4" x2="128" y2="856.4"/><line x1="124" y1="890.2" x2="128" y2="890.2"/><line x1="124" y1="924" x2="128" y2="924"/>
    <line x1="147" y1="924" x2="147" y2="928"/><line x1="175" y1="924" x2="175" y2="928"/>
    <line x1="152" y1="760" x2="180" y2="760"/>
  </g>
  <text x="121" y="760" text-anchor="end">100</text>
  <text x="121" y="794" text-anchor="end">80</text>
  <text x="121" y="827" text-anchor="end">60</text>
  <text x="121" y="861" text-anchor="end">40</text>
  <text x="121" y="895" text-anchor="end">20</text>
  <text x="121" y="929" text-anchor="end">0</text>
  <text x="166" y="758" text-anchor="middle" font-size="12">*</text>
  <text transform="translate(56,840) rotate(-90)" text-anchor="middle">Clones with synchronized</text>
  <text transform="translate(73,840) rotate(-90)" text-anchor="middle">proliferation/cell death</text>
  <text transform="translate(89,840) rotate(-90)" text-anchor="middle">phases (%)</text>
  <text transform="translate(152,936) rotate(-45)" text-anchor="end">Ctrl</text>
  <text transform="translate(180,936) rotate(-45)" text-anchor="end">OVX</text>
  <path d="M147,821 L150,822 L152,826 L151,834 L150,845 L152,858 L155,868 L156,878 L155,888 L151,896 L147,899 L143,896 L139,888 L138,878 L139,868 L142,858 L144,845 L143,834 L142,826 L144,822 Z" fill="#fff" stroke="#111" stroke-width="0.8"/>
  <line x1="139" y1="877" x2="155" y2="877" stroke="#000" stroke-width="2.5"/>
  <line x1="141" y1="893" x2="153" y2="893" stroke="#000" stroke-width="0.8"/>
  <line x1="143" y1="836" x2="151" y2="836" stroke="#000" stroke-width="0.8"/>
  <path d="M168,897 L182,897 L181,901 L179,906 L177,912 L177,918 L176,922 L175,924 L174,922 L173,918 L173,912 L171,906 L169,901 Z" fill="#fff" stroke="#111" stroke-width="0.8"/>
  <line x1="167" y1="898" x2="183" y2="898" stroke="#000" stroke-width="2"/>
  <line x1="167" y1="904" x2="183" y2="904" stroke="#000" stroke-width="2.5"/>
  <g fill="#9a9a9a"><circle cx="147" cy="823" r="2.6"/><circle cx="153" cy="876" r="2.6"/><circle cx="142" cy="878" r="2.6"/><circle cx="146" cy="899" r="2.6"/>
  <circle cx="182" cy="897" r="2.6"/><circle cx="170" cy="901" r="2.6"/><circle cx="176" cy="903" r="2.6"/><circle cx="175" cy="924" r="2.6"/></g>
</g>

<!-- ===== Panel e ===== -->
<text x="239" y="740" font-size="14" font-weight="bold">e</text>
<rect x="255" y="747" width="100" height="13" fill="#14120e"/>
<text x="272" y="758" font-size="11" fill="#c43ca0">DNA</text>
<text x="313" y="758" font-size="11" fill="#6cc040">EdU</text>
<g clip-path="url(#cE1)">
  <rect x="255" y="762" width="99" height="100" fill="#7a2a7c"/>
  <ellipse cx="320" cy="790" rx="35" ry="20" fill="#9a3c9a" opacity="0.45"/>
  <ellipse cx="275" cy="845" rx="22" ry="15" fill="#3a0e3a" opacity="0.5"/>
  <g fill="none" stroke="#220822" stroke-width="2" opacity="0.8">
    <path d="M255,800 Q285,790 300,770 T350,765"/><path d="M255,840 Q290,845 310,830 T354,820"/><path d="M300,862 Q315,840 354,850"/><path d="M330,762 Q335,790 354,800"/><path d="M262,775 Q272,800 262,825"/>
  </g>
  <rect x="255" y="762" width="99" height="100" fill="url(#gsmall)" opacity="0.55"/>
  <rect x="266" y="799" width="42" height="44" fill="none" stroke="#fff" stroke-width="1" stroke-dasharray="6,4"/>
  <rect x="325" y="856" width="25" height="2" fill="#fff"/>
</g>
<g clip-path="url(#cE2)">
  <rect x="358" y="762" width="99" height="100" fill="#862c88"/>
  <ellipse cx="420" cy="805" rx="28" ry="25" fill="#a040a4" opacity="0.55"/>
  <g fill="none" stroke="#1e061e" stroke-width="3.2" opacity="0.8">
    <path d="M358,790 Q380,800 400,785 T457,770"/><path d="M358,835 Q390,830 405,845 T457,845"/><path d="M400,785 Q395,820 405,845"/>
  </g>
  <rect x="358" y="762" width="99" height="100" fill="url(#gbig)"/>
</g>
<g clip-path="url(#cE3)">
  <rect x="255" y="866" width="99" height="99" fill="#762878"/>
  <ellipse cx="280" cy="890" rx="25" ry="22" fill="#4a1a4a" opacity="0.6"/>
  <g fill="none" stroke="#220822" stroke-width="2" opacity="0.75">
    <path d="M255,935 Q290,925 320,935 T354,930"/><path d="M300,866 Q310,890 330,900 T354,910"/>
  </g>
  <rect x="255" y="866" width="99" height="99" fill="url(#gsmall)" opacity="0.5"/>
  <rect x="282" y="912" width="42" height="43" fill="none" stroke="#fff" stroke-width="1" stroke-dasharray="6,4"/>
  <rect x="325" y="958" width="25" height="2" fill="#fff"/>
</g>
<g clip-path="url(#cE4)">
  <rect x="358" y="866" width="99" height="99" fill="#8a3090"/>
  <ellipse cx="415" cy="935" rx="30" ry="22" fill="#a040a4" opacity="0.5"/>
  <g fill="none" stroke="#1e061e" stroke-width="2.8" opacity="0.75">
    <path d="M358,905 Q390,900 420,915 T457,905"/><path d="M400,866 Q410,880 430,882 T457,870"/>
  </g>
  <rect x="358" y="866" width="99" height="99" fill="url(#gbig)"/>
</g>
<text transform="translate(249,812) rotate(-90)" font-size="12.5" text-anchor="middle">Oestrus</text>
<text transform="translate(249,913) rotate(-90)" font-size="12.5" text-anchor="middle">Dioestrus</text>

<g font-size="12.5" fill="#222">
  <g stroke="#111" stroke-width="1">
    <line x1="517" y1="757" x2="517" y2="927"/><line x1="517" y1="927" x2="589" y2="927"/>
    <line x1="513" y1="757" x2="517" y2="757"/><line x1="513" y1="813.7" x2="517" y2="813.7"/><line x1="513" y1="870.3" x2="517" y2="870.3"/><line x1="513" y1="927" x2="517" y2="927"/>
    <line x1="537" y1="927" x2="537" y2="931"/><line x1="568" y1="927" x2="568" y2="931"/>
    <line x1="550" y1="760" x2="580" y2="760"/>
  </g>
  <text x="510" y="762" text-anchor="end">15</text>
  <text x="510" y="818" text-anchor="end">10</text>
  <text x="510" y="875" text-anchor="end">5</text>
  <text x="510" y="932" text-anchor="end">0</text>
  <text x="565" y="758" text-anchor="middle" font-size="12">*</text>
  <text transform="translate(487,815) rotate(-90)" text-anchor="middle" fill="#6a1a6a">EdU<tspan font-size="8" dy="-5">+</tspan><tspan dy="5">cells (%)</tspan></text>
  <text transform="translate(541,938) rotate(-45)" text-anchor="end">Oestrus</text>
  <text transform="translate(572,938) rotate(-45)" text-anchor="end">Dioestrus</text>
  <path d="M537,768 L538,775 L540,790 L542,800 L545,806 L548,812 L549,822 L546,835 L544,845 L543,852 L542,859 L532,859 L531,852 L530,845 L528,835 L525,822 L526,812 L529,806 L532,800 L534,790 L536,775 Z" fill="#3c4ca0" stroke="#111" stroke-width="0.8"/>
  <line x1="525" y1="820.5" x2="549" y2="820.5" stroke="#000" stroke-width="3"/>
  <line x1="527" y1="813.7" x2="547" y2="813.7" stroke="#000" stroke-width="0.8"/>
  <line x1="530" y1="844.3" x2="544" y2="844.3" stroke="#000" stroke-width="0.8"/>
  <path d="M568,799 L569,810 L569.5,825 L571,840 L576,848 L579,856 L579,866 L577,875 L574,885 L570,893 L570,900 L571,908 L570,916 L566,916 L565,908 L566,900 L566,893 L562,885 L559,875 L557,866 L557,856 L560,848 L565,840 L566.5,825 L567,810 Z" fill="#e01818" stroke="#111" stroke-width="0.8"/>
  <line x1="556" y1="862.4" x2="580" y2="862.4" stroke="#000" stroke-width="3"/>
  <line x1="559" y1="852.2" x2="577" y2="852.2" stroke="#000" stroke-width="0.8"/>
  <line x1="559" y1="877" x2="577" y2="877" stroke="#000" stroke-width="0.8"/>
  <g fill="#9a9a9a">
    <circle cx="537" cy="769" r="2.6"/><circle cx="538" cy="795" r="2.6"/><circle cx="535" cy="802" r="2.6"/><circle cx="528" cy="808" r="2.6"/><circle cx="542" cy="812" r="2.6"/><circle cx="546" cy="816" r="2.6"/><circle cx="530" cy="818" r="2.6"/><circle cx="538" cy="823" r="2.6"/><circle cx="532" cy="829" r="2.6"/><circle cx="541" cy="833" r="2.6"/><circle cx="536" cy="840" r="2.6"/><circle cx="530" cy="846" r="2.6"/><circle cx="544" cy="848" r="2.6"/><circle cx="538" cy="853" r="2.6"/><circle cx="533" cy="857" r="2.6"/><circle cx="541" cy="859" r="2.6"/>
    <circle cx="568" cy="800" r="2.6"/><circle cx="568" cy="805" r="2.6"/><circle cx="560" cy="852" r="2.6"/><circle cx="575" cy="852" r="2.6"/><circle cx="558" cy="858" r="2.6"/><circle cx="578" cy="860" r="2.6"/><circle cx="562" cy="866" r="2.6"/><circle cx="574" cy="868" r="2.6"/><circle cx="557" cy="875" r="2.6"/><circle cx="566" cy="878" r="2.6"/><circle cx="576" cy="873" r="2.6"/><circle cx="568" cy="888" r="2.6"/><circle cx="567" cy="906" r="2.6"/><circle cx="570" cy="912" r="2.6"/><circle cx="567" cy="916" r="2.6"/>
  </g>
</g>

<!-- ===== Panel f ===== -->
<text x="645" y="740" font-size="14" font-weight="bold">f</text>
<rect x="659" y="733" width="100" height="29" fill="#14120e"/>
<text x="662" y="745" font-size="11"><tspan fill="#c43ca0">DNA</tspan><tspan fill="#d8d020"> Tumour cells</tspan></text>
<text x="662" y="758" font-size="11"><tspan fill="#50b8c8">E-cadCFP</tspan><tspan fill="#ffffff"> PHH3</tspan></text>
<g clip-path="url(#cF1)">
  <rect x="659" y="763" width="100" height="99" fill="#8a8068"/>
  <ellipse cx="685" cy="790" rx="20" ry="22" fill="url(#lightF)"/>
  <ellipse cx="735" cy="785" rx="22" ry="18" fill="url(#lightF)"/>
  <ellipse cx="715" cy="830" rx="25" ry="20" fill="url(#lightF)"/>
  <ellipse cx="745" cy="840" rx="14" ry="14" fill="#9a7e90" opacity="0.45"/>
  <ellipse cx="680" cy="845" rx="18" ry="15" fill="#a09070" opacity="0.6"/>
  <g fill="none" stroke="#1e1e1a" stroke-width="2.2" opacity="0.75">
    <path d="M659,815 Q690,810 700,790 T759,810"/><path d="M700,790 Q705,770 690,763"/><path d="M690,862 Q700,840 740,840 T759,850"/><path d="M660,835 Q675,830 690,845"/><path d="M720,763 Q730,775 745,768"/>
  </g>
  <rect x="659" y="763" width="100" height="99" fill="url(#fnoise)"/>
  <rect x="729" y="857" width="23" height="2" fill="#fff"/>
</g>
<g clip-path="url(#cF2)">
  <rect x="659" y="866" width="100" height="99" fill="#8e8868"/>
  <ellipse cx="735" cy="900" rx="28" ry="25" fill="url(#lightF)"/>
  <ellipse cx="740" cy="945" rx="22" ry="18" fill="url(#lightF)"/>
  <ellipse cx="675" cy="935" rx="18" ry="18" fill="#b0a478" opacity="0.6"/>
  <ellipse cx="700" cy="885" rx="22" ry="14" fill="#7a6e70" opacity="0.5"/>
  <g fill="none" stroke="#1e2420" stroke-width="1.9" opacity="0.75">
    <path d="M659,900 Q690,905 710,915 T759,925"/><path d="M710,915 Q700,940 715,965"/><path d="M690,866 Q695,885 710,890"/><path d="M659,950 Q675,945 685,960"/>
  </g>
  <rect x="659" y="866" width="100" height="99" fill="url(#fnoise)"/>
  <rect x="729" y="957" width="23" height="2" fill="#fff"/>
</g>
<text transform="translate(654,812) rotate(-90)" font-size="12.5" text-anchor="middle">Oestrus</text>
<text transform="translate(654,913) rotate(-90)" font-size="12.5" text-anchor="middle">Dioestrus</text>

<g font-size="12.5" fill="#222">
  <g stroke="#111" stroke-width="1">
    <line x1="812" y1="772" x2="812" y2="927"/><line x1="812" y1="927" x2="878" y2="927"/>
    <line x1="808" y1="772" x2="812" y2="772"/><line x1="808" y1="823.7" x2="812" y2="823.7"/><line x1="808" y1="875.3" x2="812" y2="875.3"/><line x1="808" y1="927" x2="812" y2="927"/>
    <line x1="835" y1="927" x2="835" y2="931"/><line x1="860" y1="927" x2="860" y2="931"/>
    <line x1="833" y1="760" x2="863" y2="760"/>
  </g>
  <text x="805" y="777" text-anchor="end">3</text>
  <text x="805" y="829" text-anchor="end">2</text>
  <text x="805" y="880" text-anchor="end">1</text>
  <text x="805" y="932" text-anchor="end">0</text>
  <text x="848" y="758" text-anchor="middle" font-size="12">**</text>
  <text transform="translate(789,848) rotate(-90)" text-anchor="middle">PHH3<tspan font-size="8" dy="-5">+</tspan><tspan dy="5"> tumour cells per mm</tspan><tspan font-size="8" dy="-5">2</tspan></text>
  <text transform="translate(839,938) rotate(-45)" text-anchor="end">Oestrus</text>
  <text transform="translate(864,938) rotate(-45)" text-anchor="end">Dioestrus</text>
  <path d="M828,782 L842,782 L841,790 L840,800 L839,810 L839.5,820 L842,830 L846,845 L847,855 L845,865 L843,875 L841,885 L839,891 L831,891 L829,885 L827,875 L825,865 L823,855 L824,845 L828,830 L830.5,820 L831,810 L830,800 L829,790 Z" fill="#3c4ca0" stroke="#111" stroke-width="0.8"/>
  <line x1="823" y1="854.7" x2="847" y2="854.7" stroke="#000" stroke-width="3"/>
  <line x1="830" y1="816" x2="840" y2="816" stroke="#000" stroke-width="0.8"/>
  <line x1="826" y1="872.7" x2="844" y2="872.7" stroke="#000" stroke-width="0.8"/>
  <path d="M860,856 L861,862 L862,870 L866,878 L869,885 L870,891 L868,900 L864,908 L864,912 L863,919 L857,919 L856,912 L856,908 L852,900 L850,891 L851,885 L854,878 L858,870 L859,862 Z" fill="#e01818" stroke="#111" stroke-width="0.8"/>
  <line x1="850" y1="890.8" x2="870" y2="890.8" stroke="#000" stroke-width="3"/>
  <line x1="855" y1="910.5" x2="865" y2="910.5" stroke="#000" stroke-width="0.8"/>
  <g fill="#9a9a9a">
    <circle cx="828" cy="782" r="2.6"/><circle cx="838" cy="785" r="2.6"/><circle cx="835" cy="816" r="2.6"/><circle cx="836" cy="832" r="2.6"/><circle cx="835" cy="840" r="2.6"/><circle cx="836" cy="858" r="2.6"/><circle cx="840" cy="866" r="2.6"/><circle cx="834" cy="884" r="2.6"/><circle cx="836" cy="889" r="2.6"/>
    <circle cx="860" cy="858" r="2.6"/><circle cx="857" cy="890" r="2.6"/><circle cx="865" cy="892" r="2.6"/><circle cx="862" cy="897" r="2.6"/><circle cx="860" cy="908" r="2.6"/><circle cx="858" cy="915" r="2.6"/><circle cx="866" cy="917" r="2.6"/>
  </g>
</g>
</svg>
</body></html>
